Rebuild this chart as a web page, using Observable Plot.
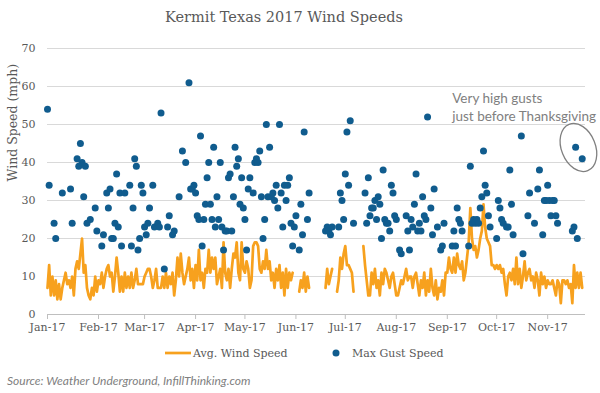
<!DOCTYPE html>
<html><head><meta charset="utf-8">
<script src="https://cdn.jsdelivr.net/npm/d3@7"></script>
<script src="https://cdn.jsdelivr.net/npm/@observablehq/plot@0.6"></script>
<style>
body{margin:0;background:#fff;}
#wrap{position:relative;width:600px;height:393px;overflow:hidden;font-family:"DejaVu Serif",serif;color:#595959;background:#fff;}
#title{position:absolute;top:0;left:0;width:568px;text-align:center;font-size:14.5px;line-height:35px;}
#chart{position:absolute;top:40px;left:0;}
#legend{position:absolute;top:344px;left:0;}
#caption{position:absolute;left:7px;top:373px;font:italic 12px Lato,sans-serif;color:#808080;line-height:16px;}
</style></head>
<body><div id="wrap">
<div id="title">Kermit Texas 2017 Wind Speeds</div>
<div id="chart"></div>
<div id="legend"></div>
<div id="caption">Source: Weather Underground, InfillThinking.com</div>
</div>
<script>
// ---- data (day index = days after 2017-01-01) ----
const avgValues = [
 7,13,5,10,5,9,4,8,4,7,
 9,11,8,9,7,10,5,12,14,12,
 16,20,11,13,7,5,4,7,5,10,
 6,9,8,11,7,10,12,13,10,11,
 6,10,15,11,6,10,6,11,7,10,
 7,11,7,9,12,8,8,8,8,10,
 11,12,12,10,7,9,12,7,7,7,
 10,7,11,7,10,8,11,5,9,15,
 10,16,11,8,10,12,15,9,12,7,
 13,9,17,9,11,7,12,11,17,11,
 15,12,15,8,10,12,7,19,11,9,
 12,7,12,16,15,19,11,9,19,12,
 11,14,12,7,9,18,19,19,18,12,
 11,14,12,17,12,14,9,11,7,12,
 9,13,7,11,5,12,7,11,9,11,
 null,null,null,6,9,7,11,6,10,7,
 null,null,null,null,null,null,null,null,null,7,
 12,8,10,12,null,null,6,9,15,12,
 16,18,13,13,12,11,6,null,null,null,
 null,null,18,13,9,5,5,11,8,12,
 7,9,5,11,8,12,11,9,7,10,
 11,8,5,5,7,9,8,10,12,9,
 10,10,7,10,11,8,5,9,7,11,
 5,9,6,12,7,5,9,4,7,6,
 9,5,11,11,15,12,11,15,11,16,
 13,12,14,9,11,15,19,28,20,17,
 18,15,17,20,22,29,23,20,19,18,
 13,13,12,13,12,13,11,12,8,5,
 10,11,9,12,8,15,8,12,7,10,
 14,9,11,12,9,10,7,11,9,5,
 11,8,10,7,9,8,8,9,7,5,
 9,8,3,9,9,8,9,7,8,3,
 13,7,11,7,11,7
];
const gustDays = [0,1,4,5,9,14,15,18,19,20,21,22,23,24,26,29,30,33,34,36,37,38,39,40,41,42,43,44,45,47,50,51,52,53,54,55,56,57,58,59,60,61,62,64,65,67,68,69,71,73,74,76,77,80,82,84,86,87,88,89,90,91,92,93,94,95,96,97,98,99,100,101,102,103,104,105,106,107,108,109,110,111,112,113,114,115,116,117,118,119,120,121,122,123,125,126,127,128,129,130,131,132,133,134,135,136,137,138,139,140,141,142,143,144,145,146,147,148,149,150,151,153,154,155,156,158,159,169,170,171,172,173,177,178,179,180,181,182,183,184,186,193,194,195,196,197,198,199,200,201,202,203,204,205,206,207,208,209,210,211,212,214,215,218,219,220,221,222,223,224,225,226,227,228,229,230,231,233,234,235,237,239,240,241,246,247,248,249,250,251,252,256,257,258,259,260,261,262,263,264,265,266,267,268,269,273,274,275,276,277,279,280,281,282,283,288,289,292,293,296,298,299,301,302,303,304,305,306,307,308,309,310,319,320,321,322,325];
const gustValues = [54,34,24,20,32,33,24,41,39,45,40,31,39,24,25,28,22,18,21,32,28,33,20,20,24,37,23,32,18,32,34,18,28,41,39,17,20,34,32,23,21,24,28,34,23,24,23,53,12,23,26,21,22,31,43,40,61,33,33,34,32,26,25,47,18,25,29,36,40,29,25,44,23,31,25,40,23,17,22,22,36,37,22,31,44,39,41,29,36,28,25,17,33,36,32,40,41,40,43,31,20,25,50,31,44,31,32,30,34,28,50,32,23,34,30,34,36,24,18,23,26,17,29,21,48,25,32,22,23,22,21,23,23,32,30,25,37,48,34,51,24,32,24,36,26,28,28,30,25,31,29,20,38,25,24,24,22,34,32,26,25,17,16,26,22,17,25,23,29,37,22,24,22,31,26,25,52,28,21,33,23,17,18,24,18,22,18,28,25,24,22,18,39,24,25,24,25,24,28,31,43,34,32,26,23,20,30,28,25,24,23,23,38,29,21,47,16,26,32,24,33,38,21,30,30,34,30,26,30,30,26,24,22,23,44,20,41];
const monthTicks = ["2017-01-01","2017-02-01","2017-03-01","2017-04-01","2017-05-01","2017-06-01","2017-07-01","2017-08-01","2017-09-01","2017-10-01","2017-11-01"];
const yTicks = [0,10,20,30,40,50,60,70];
const domainDays = [0, 327];
const annotationDay = [246];
const annotationValue = [59];
const annotationText = ["Very high gusts\njust before Thanksgiving"];
const circledDays = [321, 325];
const seriesNames = ["Avg. Wind Speed", "Max Gust Speed"];

const ORANGE = "#F7A11E", BLUE = "#105C8E";
const toDate = d => new Date(Date.UTC(2017, 0, 1 + d));

const avgData = avgValues.map((v, i) => ({date: toDate(i), value: v}));
const gustData = gustDays.map((d, i) => ({date: toDate(d), value: gustValues[i]}));
const annData = annotationDay.map((d, i) => ({date: toDate(d), value: annotationValue[i], text: annotationText[i]}));

const chart = Plot.plot({
  width: 600, height: 300,
  marginLeft: 47, marginRight: 15, marginTop: 8, marginBottom: 26,
  style: {fontFamily: '"DejaVu Serif", serif', fontSize: "11px", color: "#595959", background: "white", overflow: "visible"},
  x: {type: "utc", domain: domainDays.map(toDate)},
  y: {domain: [0, 70]},
  marks: [
    Plot.gridY(yTicks, {stroke: "#d9d9d9", strokeOpacity: 1}),
    Plot.ruleY([0], {stroke: "#bfbfbf"}),
    Plot.axisY({ticks: yTicks, tickSize: 0, tickPadding: 12, label: null, fill: "#595959"}),
    Plot.axisX({ticks: monthTicks.map(s => new Date(s)), tickFormat: d3.utcFormat("%b-%y"), tickSize: 5, tickPadding: 4, stroke: "#bfbfbf", fill: "#595959", label: null}),
    Plot.text(["Wind Speed (mph)"], {frameAnchor: "left", text: d => d, rotate: -90, dx: -35, fontSize: 12.5, fill: "#595959"}),
    Plot.line(avgData, {x: "date", y: "value", stroke: ORANGE, strokeWidth: 2.7, strokeLinejoin: "round"}),
    Plot.dot(gustData, {x: "date", y: "value", r: 3.5, fill: BLUE}),
    Plot.text(annData, {x: "date", y: "value", text: "text", textAnchor: "start", lineAnchor: "top", lineHeight: 1.33, fill: "#808080", fontFamily: "Lato, sans-serif", fontSize: 13.5})
  ]
});
document.getElementById("chart").appendChild(chart);

// ellipse round the two pre-Thanksgiving gusts
const sx = chart.scale("x"), sy = chart.scale("y");
const pts = circledDays.map(d => gustData.find(g => +g.date === +toDate(d)));
const cx = d3.mean(pts, p => sx.apply(p.date));
const cy = d3.mean(pts, p => sy.apply(p.value)) - 5;
d3.select(chart).append("ellipse")
  .attr("cx", cx).attr("cy", cy).attr("rx", 17).attr("ry", 25)
  .attr("transform", `rotate(-22 ${cx} ${cy})`)
  .attr("fill", "none").attr("stroke", "#808080").attr("stroke-width", 1.3);

// legend
const leg = d3.select("#legend").append("svg").attr("width", 600).attr("height", 18)
  .style("font-family", '"DejaVu Serif", serif').style("font-size", "11px");
leg.append("line").attr("x1", 165).attr("x2", 191).attr("y1", 9).attr("y2", 9).attr("stroke", ORANGE).attr("stroke-width", 2.7);
leg.append("text").attr("x", 193).attr("y", 13).attr("fill", "#595959").text(seriesNames[0]);
leg.append("circle").attr("cx", 336).attr("cy", 9).attr("r", 3.5).attr("fill", BLUE);
leg.append("text").attr("x", 352).attr("y", 13).attr("fill", "#595959").text(seriesNames[1]);
</script>
</body></html>
